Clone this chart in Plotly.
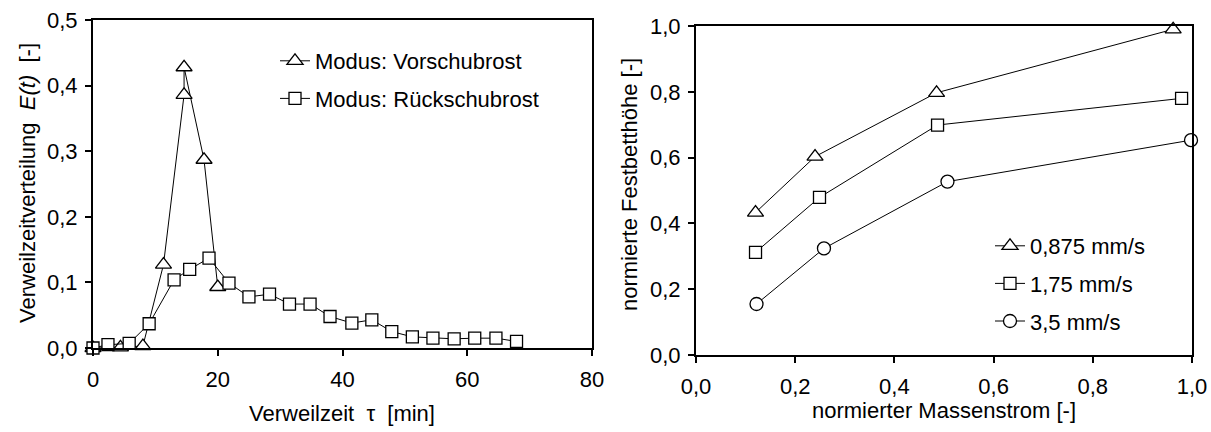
import plotly.graph_objects as go

# ---- left chart data: residence time distribution ----
tau_vor = [0, 4.4, 8.0, 11.3, 14.6, 14.6, 17.8, 20.0]
E_vor = [0.0, 0.001, 0.003, 0.127, 0.386, 0.428, 0.287, 0.093]
tau_rueck = [0, 2.4, 5.8, 9.0, 13.0, 15.5, 18.6, 21.8, 25.0, 28.3, 31.5,
             34.8, 38.0, 41.5, 44.7, 47.9, 51.2, 54.5, 57.9, 61.2, 64.6, 67.9]
E_rueck = [0.0, 0.005, 0.007, 0.037, 0.104, 0.120, 0.137, 0.099, 0.078, 0.082, 0.067,
           0.067, 0.048, 0.038, 0.043, 0.025, 0.017, 0.015, 0.014, 0.015, 0.015, 0.010]

# ---- right chart data: normalized bed height ----
mass_0875 = [0.120, 0.240, 0.485, 0.962]
h_0875 = [0.433, 0.603, 0.797, 0.990]
mass_175 = [0.120, 0.249, 0.487, 0.979]
h_175 = [0.312, 0.479, 0.699, 0.780]
mass_35 = [0.122, 0.258, 0.507, 0.998]
h_35 = [0.155, 0.324, 0.527, 0.653]

FONT = "Liberation Sans, Arial, sans-serif"
FS = 22
W, H = 1211, 432

def px(x):
    return x / W

def py(y):
    return (H - y) / H

def trace(x, y, name, symbol, size, xa, ya, legend, group):
    return go.Scatter(
        x=x, y=y, name=name, mode="lines+markers",
        line=dict(color="black", width=1),
        marker=dict(symbol=symbol, size=size, color="white",
                    line=dict(color="black", width=1.3)),
        xaxis=xa, yaxis=ya, legend=legend, legendgroup=group,
        cliponaxis=False,
    )

fig = go.Figure()
fig.add_trace(trace(tau_vor, E_vor, "Modus: Vorschubrost", "triangle-up", 14, "x", "y", "legend", "a"))
fig.add_trace(trace(tau_rueck, E_rueck, "Modus: Rückschubrost", "square", 12, "x", "y", "legend", "b"))
fig.add_trace(trace(mass_0875, h_0875, "0,875 mm/s", "triangle-up", 14, "x2", "y2", "legend2", "c"))
fig.add_trace(trace(mass_175, h_175, "1,75 mm/s", "square", 12, "x2", "y2", "legend2", "d"))
fig.add_trace(trace(mass_35, h_35, "3,5 mm/s", "circle", 13, "x2", "y2", "legend2", "e"))

axis_common = dict(showline=True, linecolor="black", linewidth=2, mirror=True,
                   ticks="outside", ticklen=6, tickwidth=2, tickcolor="black",
                   showgrid=False, zeroline=False, automargin=False,
                   tickfont=dict(family=FONT, size=FS, color="black"))

fig.update_layout(
    width=W, height=H, margin=dict(l=0, r=0, t=0, b=0, autoexpand=False),
    paper_bgcolor="white", plot_bgcolor="white",
    separators=",.",
    font=dict(family=FONT, size=FS, color="black"),
    xaxis=dict(domain=[px(93), px(592)], range=[0, 80], dtick=20, anchor="y",
               ticklabelstandoff=5, **axis_common),
    yaxis=dict(domain=[py(348), py(20)], range=[0, 0.5], dtick=0.1, tickformat=".1f",
               anchor="x", ticklabelstandoff=3, **axis_common),
    xaxis2=dict(domain=[px(696), px(1192)], range=[0, 1], dtick=0.2, tickformat=".1f",
                anchor="y2", ticklabelstandoff=5, **axis_common),
    yaxis2=dict(domain=[py(355), py(26)], range=[0, 1], dtick=0.2, tickformat=".1f",
                anchor="x2", ticklabelstandoff=3, **axis_common),
    legend=dict(x=px(275), y=py(40), xanchor="left", yanchor="top",
                bgcolor="rgba(0,0,0,0)", font=dict(family=FONT, size=FS),
                traceorder="grouped", tracegroupgap=6, itemwidth=30),
    legend2=dict(x=px(990), y=py(225), xanchor="left", yanchor="top",
                 bgcolor="rgba(0,0,0,0)", font=dict(family=FONT, size=FS),
                 traceorder="grouped", tracegroupgap=6, itemwidth=30),
    showlegend=True,
)

ann = dict(xref="paper", yref="paper", showarrow=False, xanchor="center", yanchor="middle",
           font=dict(family=FONT, size=FS, color="black"))
fig.add_annotation(text="Verweilzeit  τ  [min]", x=px(342), y=py(413), **ann)
fig.add_annotation(text="normierter Massenstrom [-]", x=px(944), y=py(410), **ann)
fig.add_annotation(text="Verweilzeitverteilung  <i>E(t)</i>  [-]", x=px(27), y=py(183),
                   textangle=-90, **ann)
fig.add_annotation(text="normierte Festbetthöhe [-]", x=px(630), y=py(185),
                   textangle=-90, **ann)

fig.write_html("out.html", config={"displayModeBar": False},
               post_script="document.body.style.margin='0';document.body.style.overflow='hidden';")
